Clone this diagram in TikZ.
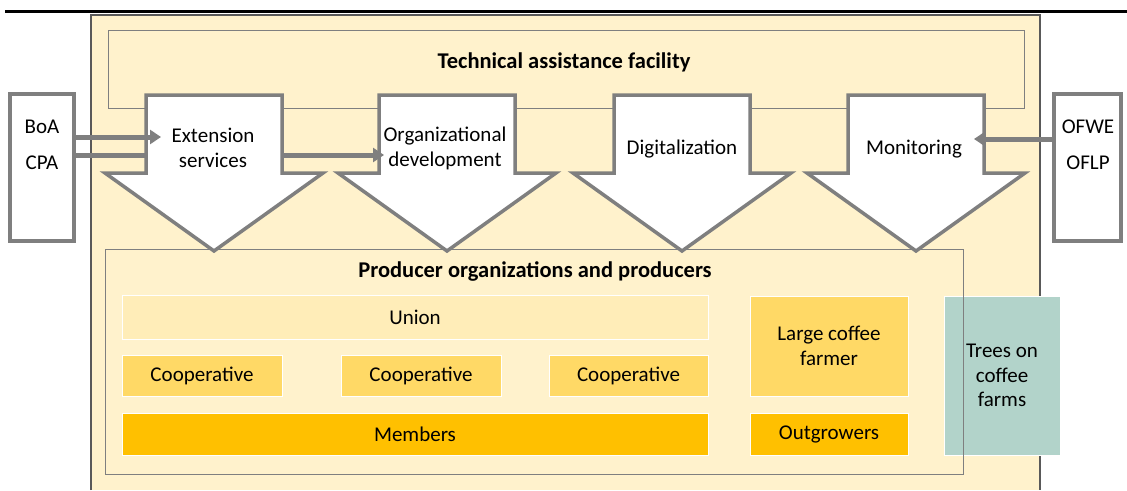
\documentclass[tikz,border=0pt]{standalone}
\usepackage{fontspec}
\setmainfont{Carlito}
\usetikzlibrary{arrows.meta}
\definecolor{beige}{HTML}{FFF2CC}
\definecolor{unionc}{HTML}{FFEDB8}
\definecolor{coopc}{HTML}{FFD966}
\definecolor{memc}{HTML}{FFC000}
\definecolor{treec}{HTML}{B2D3CA}
\definecolor{gry}{HTML}{7F7F7F}
\definecolor{dgry}{HTML}{595959}
\begin{document}
\begin{tikzpicture}[x=1pt,y=-1pt,
  txt/.style={font=\fontsize{21}{25}\selectfont, align=center, inner sep=0},
  btxt/.style={font=\fontsize{22.5}{25}\selectfont\bfseries, align=center, inner sep=0},
  sidebox/.style={draw=gry, line width=3.5, fill=white, minimum width=64, minimum height=147, inner sep=0},
  inbox/.style={draw=white, line width=1, font=\fontsize{21}{24.5}\selectfont, align=center, inner sep=0},
  bigarrow/.style={draw=gry, line width=3.5, fill=white, line join=miter},
  conn/.style={draw=gry, line width=5, -{Triangle[length=11pt,width=14pt]}},
  connplain/.style={draw=gry, line width=5}
]
\useasboundingbox (0,0) rectangle (1127,490);
% top rule
\draw[line width=2.2] (5,11.5) -- (1127,11.5);
% outer frame
\fill[beige] (91,15) rectangle (1040,490);
\draw[dgry, line width=1.3] (91,490) -- (91,15) -- (1040,15) -- (1040,490);
% technical assistance facility
\node[draw=gry, line width=1, fill=beige, minimum width=916, minimum height=78, inner sep=0] (taf) at (566,69) {};
\node[btxt] (taft) at (564,62) {Technical assistance facility};
% producer organizations
\node[fill=beige, minimum width=857, minimum height=224, inner sep=0] (prod) at (534.5,362) {};
\node[btxt] (prodt) at (535,271) {Producer organizations and producers};
\node[inbox, fill=unionc, minimum width=586, minimum height=44] (union) at (415,317) {Union};
\node[inbox, fill=coopc, minimum width=160, minimum height=41] (coop1) at (202,375.5) {Cooperative};
\node[inbox, fill=coopc, minimum width=160, minimum height=41] (coop2) at (421,375.5) {Cooperative};
\node[inbox, fill=coopc, minimum width=159, minimum height=41] (coop3) at (628.5,375.5) {Cooperative};
\node[inbox, fill=memc, minimum width=586, minimum height=42] (mem) at (415,434) {Members};
\node[inbox, fill=coopc, minimum width=158, minimum height=100] (large) at (829,346) {Large coffee\\farmer};
\node[inbox, fill=memc, minimum width=158, minimum height=42] (outg) at (829,434) {Outgrowers};
\node[inbox, fill=treec, minimum width=116, minimum height=159] (trees) at (1002,375.5) {Trees on\\coffee\\farms};
\draw[gry, line width=1.2] (prod.north west) rectangle (prod.south east);
% big down arrows
\foreach \cx/\nm in {214/a1, 447/a2, 682/a3, 916/a4}{
  \draw[bigarrow] (\cx-68,95) -- (\cx+68,95) -- (\cx+68,173) -- (\cx+109,173) -- (\cx,251) -- (\cx-109,173) -- (\cx-68,173) -- cycle;
  \coordinate (\nm L) at (\cx-68,155);
  \coordinate (\nm R) at (\cx+68,155);
}
\node[txt] (ext) at (213,148) {Extension\\services};
\node[txt] (org) at (445,148) {Organizational\\development};
\node[txt] (dig) at (682,149) {Digitalization};
\node[txt] (mon) at (914,149) {Monitoring};
% side boxes
\node[sidebox] (boa) at (42,167.5) {};
\node[txt] (boat) at (42,127) {BoA};
\node[txt] (cpat) at (42,163) {CPA};
\node[sidebox, minimum width=67] (ofwe) at (1087.5,167.5) {};
\node[txt] (ofwet) at (1088,127) {OFWE};
\node[txt] (oflpt) at (1088,163) {OFLP};
% connectors
\coordinate (boaend) at (161,137);
\coordinate (orgend) at (384,155);
\coordinate (monend) at (974,139);
\draw[conn] ([yshift=30.5pt]boa.east) -- (boaend);
\draw[connplain] ([yshift=12.5pt]boa.east) -- (a1L);
\draw[conn] (a1R) -- (orgend);
\draw[conn] ([yshift=28.5pt]ofwe.west) -- (monend);
\end{tikzpicture}
\end{document}
